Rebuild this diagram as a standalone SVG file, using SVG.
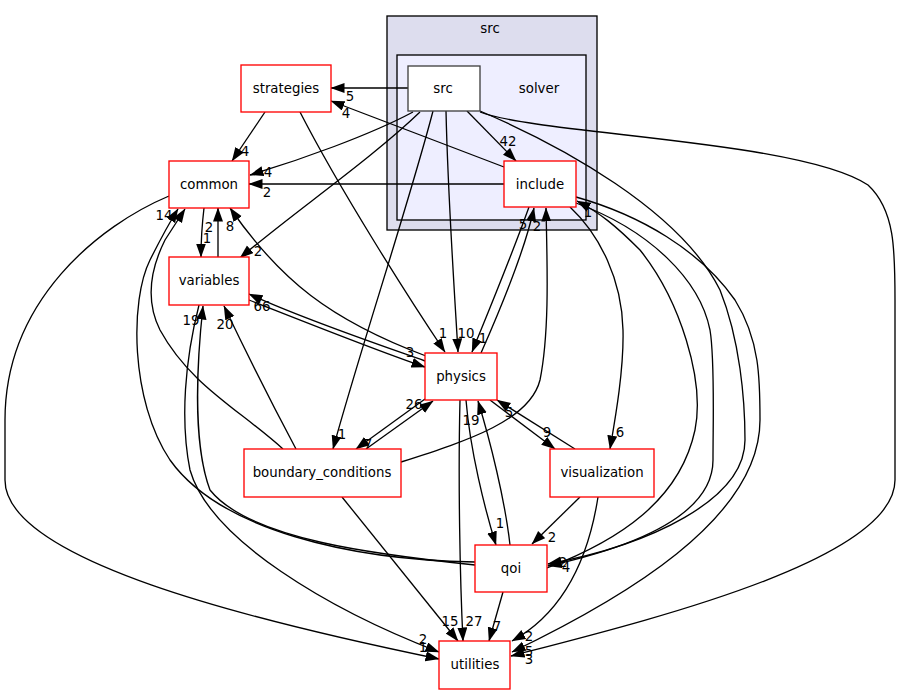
<svg xmlns="http://www.w3.org/2000/svg" width="900" height="695" viewBox="0 0 900 695">
<defs>
<marker id="ah" markerWidth="15" markerHeight="11" refX="13.5" refY="5" orient="auto" markerUnits="userSpaceOnUse">
<path d="M0,0 L14,5 L0,10 z" fill="#000"/>
</marker>
<style>
text{font-family:"DejaVu Sans","Liberation Sans",sans-serif;font-size:13.33px;fill:#000;text-anchor:middle}
.n{fill:#fff;stroke:#ff0000;stroke-width:1.33}
.e path{fill:none;stroke:#000;stroke-width:1.33;marker-end:url(#ah)}
</style>
</defs>
<rect width="900" height="695" fill="#fff"/>
<g id="cluster_src">
<rect x="387" y="16" width="210" height="214" fill="#ddddee" stroke="#000" stroke-width="1.33"/>
<text x="490" y="33">src</text>
</g>
<g id="cluster_solver">
<rect x="397" y="55" width="189" height="165" fill="#eeeeff" stroke="#000" stroke-width="1.33"/>
<text x="539" y="93">solver</text>
</g>
<g class="e" id="edges">
<path d="M408,88 L331,88"/>
<path d="M504,167 L331,101"/>
<path d="M413,112 C370,135 300,160 250,175"/>
<path d="M504,184 L249,184"/>
<path d="M420,112 C370,160 290,215 240,258"/>
<path d="M433,111 C410,200 360,350 333,449"/>
<path d="M446,111 C448,200 455,300 458,352"/>
<path d="M467,111 L516,161"/>
<path d="M480,112 C540,135 800,140 868,185 C895,210 895,250 895,300 L895,480 C895,560 650,620 511,656"/>
<path d="M480,111 C560,145 680,210 720,290 C740,340 745,400 745,440 C745,500 650,545 548,564"/>
<path d="M576,197 C640,215 700,250 735,300 C760,340 760,380 760,420 C760,520 620,600 512,652"/>
<path d="M576,203 C650,230 700,280 710,330 C715,360 713,420 713,460 C713,520 620,550 548,566"/>
<path d="M547,568 C620,540 680,500 695,430 C705,380 680,300 640,250 C615,225 600,213 577,201"/>
<path d="M570,207 C600,235 622,280 623,330 C624,370 615,420 610,449"/>
<path d="M529,207 C510,260 485,320 472,352"/>
<path d="M481,353 C500,310 525,250 534,208"/>
<path d="M401,462 C470,440 530,420 540,380 C550,330 547,260 546,208"/>
<path d="M265,112 L232,161"/>
<path d="M300,112 C340,190 410,300 445,352"/>
<path d="M204,208 C202,225 201,240 201,257"/>
<path d="M218,257 L218,208"/>
<path d="M426,356 C330,320 280,280 230,208"/>
<path d="M249,300 C300,320 380,352 425,367"/>
<path d="M425,361 C380,345 300,318 249,294"/>
<path d="M366,449 L433,401"/>
<path d="M425,399 L356,449"/>
<path d="M460,400 C458,480 460,580 463,641"/>
<path d="M466,400 C470,450 485,510 496,545"/>
<path d="M510,545 C505,500 490,440 478,401"/>
<path d="M490,400 L555,449"/>
<path d="M575,449 L497,400"/>
<path d="M580,497 L532,544"/>
<path d="M598,497 C585,580 550,620 512,641"/>
<path d="M503,592 L489,641"/>
<path d="M342,497 L458,641"/>
<path d="M169,196 C100,225 5,300 5,420 L5,480 C5,560 250,620 439,659"/>
<path d="M199,305 C185,360 180,420 190,470 C210,540 330,610 439,652"/>
<path d="M475,562 C350,560 220,530 170,460 C130,400 130,300 150,260 C160,240 168,225 178,209"/>
<path d="M283,449 C240,410 190,385 160,330 C145,300 150,270 165,240 L185,209"/>
<path d="M475,565 C380,555 250,540 210,490 C195,450 195,380 203,306"/>
<path d="M296,449 C270,400 245,350 224,306"/>
</g>
<g id="edge_labels">
<text x="350" y="101">5</text>
<text x="346" y="118">4</text>
<text x="245" y="156">4</text>
<text x="268" y="177">4</text>
<text x="267" y="197">2</text>
<text x="508" y="146">42</text>
<text x="258" y="256">2</text>
<text x="209" y="232">2</text>
<text x="207" y="243">1</text>
<text x="230" y="231">8</text>
<text x="164" y="220">14</text>
<text x="191" y="325">19</text>
<text x="225" y="329">20</text>
<text x="262" y="311">66</text>
<text x="410" y="357">3</text>
<text x="443" y="338">1</text>
<text x="466" y="338">10</text>
<text x="483" y="343">1</text>
<text x="523" y="229">5</text>
<text x="537" y="231">2</text>
<text x="588" y="217">1</text>
<text x="620" y="437">6</text>
<text x="414" y="409">26</text>
<text x="368" y="449">7</text>
<text x="342" y="439">1</text>
<text x="471" y="425">19</text>
<text x="509" y="417">5</text>
<text x="547" y="437">9</text>
<text x="500" y="528">1</text>
<text x="552" y="542">2</text>
<text x="563" y="567">2</text>
<text x="566" y="572">4</text>
<text x="450" y="626">15</text>
<text x="474" y="626">27</text>
<text x="497" y="631">7</text>
<text x="423" y="644">2</text>
<text x="423" y="652">1</text>
<text x="529" y="641">2</text>
<text x="529" y="656">5</text>
<text x="529" y="664">3</text>
</g>
<g id="node_src"><rect x="408" y="66" width="72" height="45" fill="#fff" stroke="#404040" stroke-width="1.33"/><text x="443" y="93">src</text></g>
<g id="node_include"><rect class="n" x="504" y="161" width="72" height="46"/><text x="540" y="189">include</text></g>
<g id="node_strategies"><rect class="n" x="241" y="65" width="90" height="47"/><text x="286" y="93">strategies</text></g>
<g id="node_common"><rect class="n" x="169" y="161" width="80" height="47"/><text x="209" y="189">common</text></g>
<g id="node_variables"><rect class="n" x="169" y="257" width="80" height="48"/><text x="209" y="285">variables</text></g>
<g id="node_physics"><rect class="n" x="425" y="353" width="72" height="47"/><text x="461" y="381">physics</text></g>
<g id="node_boundary_conditions"><rect class="n" x="244" y="449" width="157" height="48"/><text x="322" y="477">boundary_conditions</text></g>
<g id="node_visualization"><rect class="n" x="550" y="449" width="104" height="48"/><text x="602" y="477">visualization</text></g>
<g id="node_qoi"><rect class="n" x="475" y="545" width="72" height="47"/><text x="511" y="573">qoi</text></g>
<g id="node_utilities"><rect class="n" x="439" y="641" width="71" height="48"/><text x="475" y="669">utilities</text></g>
</svg>
